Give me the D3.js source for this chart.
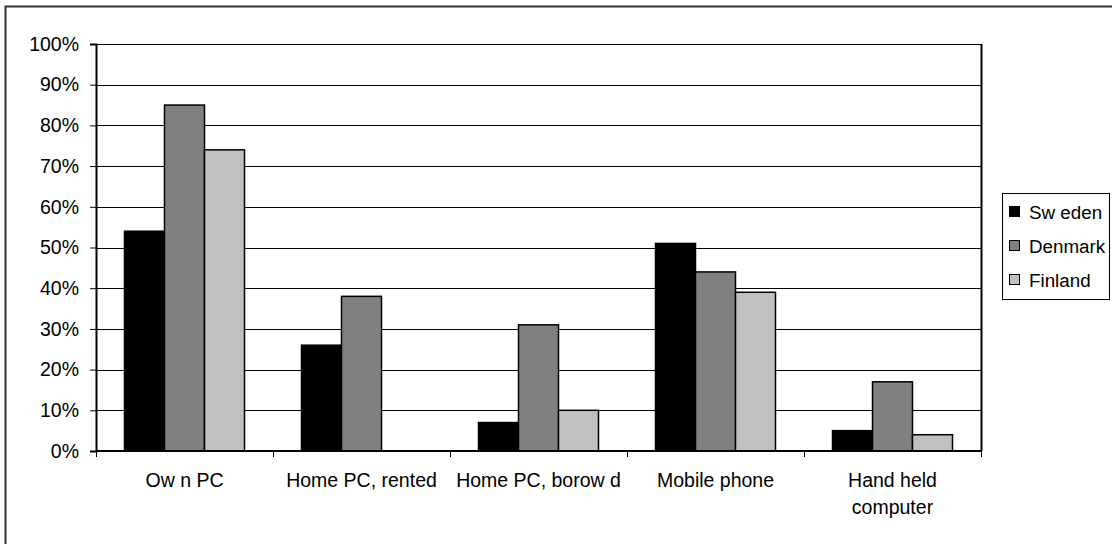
<!DOCTYPE html>
<html>
<head>
<meta charset="utf-8">
<script src="https://cdn.jsdelivr.net/npm/d3@7"></script>
<style>
  html, body { margin: 0; padding: 0; background: #fff; }
  svg { display: block; }
  text { font-family: "Liberation Sans", Arial, sans-serif; fill: #000; }
</style>
</head>
<body>
<svg id="chart" width="1112" height="544"></svg>
<script>
// Categories (labels as printed, line breaks split with "|")
const categories = ["Ow n PC", "Home PC, rented", "Home PC, borow d", "Mobile phone", "Hand held|computer"];
const seriesNames = ["Sw eden", "Denmark", "Finland"];
const seriesColors = ["#000000", "#808080", "#c0c0c0"];

// Percent values per series, in category order
const sweden  = [54, 26, 7, 51, 5];
const denmark = [85, 38, 31, 44, 17];
const finland = [74, 0, 10, 39, 4];
const seriesValues = [sweden, denmark, finland];

const yTicks = [0, 10, 20, 30, 40, 50, 60, 70, 80, 90, 100];

const svg = d3.select("#chart");
const plot = { left: 96, right: 981, top: 44, bottom: 451 };
const fontSize = 19.5;
const legendFontSize = 18.8;

// Outer chart frame
svg.append("rect")
  .attr("x", 5.5).attr("y", 6.5)
  .attr("width", 1112).attr("height", 544)
  .attr("fill", "none").attr("stroke", "#333").attr("stroke-width", 2);

const x = d3.scaleBand().domain(categories).range([plot.left, plot.right]).padding(0);
const xInner = d3.scaleBand().domain(seriesNames)
  .range([28.5, x.bandwidth() - 28.5]).padding(0);
const y = d3.scaleLinear().domain([0, 100]).range([plot.bottom, plot.top]);

// Gridlines
svg.append("g")
  .selectAll("line")
  .data(yTicks.filter(d => d > 0))
  .join("line")
  .attr("x1", plot.left).attr("x2", plot.right)
  .attr("y1", d => Math.round(y(d)) + 0.5).attr("y2", d => Math.round(y(d)) + 0.5)
  .attr("stroke", "#000").attr("stroke-width", 1);

// Bars
const groups = svg.append("g")
  .selectAll("g")
  .data(categories)
  .join("g")
  .attr("transform", d => `translate(${x(d)},0)`);

groups.selectAll("rect")
  .data((c, i) => seriesValues.map((vals, s) => ({ s, v: vals[i] })).filter(d => d.v > 0))
  .join("rect")
  .attr("x", d => xInner(seriesNames[d.s]))
  .attr("width", xInner.bandwidth())
  .attr("y", d => y(d.v))
  .attr("height", d => y(0) - y(d.v))
  .attr("fill", d => seriesColors[d.s])
  .attr("stroke", "#000").attr("stroke-width", 1.5);

// Right border of the plot area
svg.append("line")
  .attr("x1", plot.right + 0.5).attr("x2", plot.right + 0.5)
  .attr("y1", plot.top).attr("y2", plot.bottom)
  .attr("stroke", "#000").attr("stroke-width", 2);

// Y axis
const yAxis = svg.append("g")
  .attr("transform", `translate(${plot.left},0)`)
  .call(d3.axisLeft(y).tickValues(yTicks).tickFormat(d => d + "%").tickSize(6).tickPadding(11));
yAxis.select(".domain").attr("stroke", "#000").attr("stroke-width", 2);
yAxis.selectAll(".tick line").attr("stroke", "#000");
yAxis.selectAll(".tick text")
  .attr("font-size", fontSize)
  .attr("font-family", "Liberation Sans, Arial, sans-serif");

// X axis with ticks at category boundaries
const xAxis = svg.append("g")
  .attr("transform", `translate(0,${plot.bottom})`);
xAxis.append("line")
  .attr("x1", plot.left).attr("x2", plot.right + 1)
  .attr("y1", 0).attr("y2", 0)
  .attr("stroke", "#000").attr("stroke-width", 2);
xAxis.selectAll("line.tick")
  .data(categories.map(c => x(c)).concat([plot.right]))
  .join("line")
  .attr("class", "tick")
  .attr("x1", d => d + 0.5).attr("x2", d => d + 0.5)
  .attr("y1", 0).attr("y2", 6)
  .attr("stroke", "#000");

const labels = xAxis.selectAll("text")
  .data(categories)
  .join("text")
  .attr("text-anchor", "middle")
  .attr("font-size", fontSize)
  .attr("x", d => x(d) + x.bandwidth() / 2)
  .attr("y", 36);
labels.selectAll("tspan")
  .data(d => d.split("|"))
  .join("tspan")
  .attr("x", function () { return d3.select(this.parentNode).attr("x"); })
  .attr("dy", (d, i) => i === 0 ? 0 : 27)
  .text(d => d);

// Legend
const legend = svg.append("g").attr("transform", "translate(1002,193)");
legend.append("rect")
  .attr("x", 0.5).attr("y", 0.5)
  .attr("width", 107).attr("height", 106)
  .attr("fill", "#fff").attr("stroke", "#000").attr("stroke-width", 1);
const items = legend.selectAll("g.item")
  .data(seriesNames)
  .join("g")
  .attr("class", "item")
  .attr("transform", (d, i) => `translate(0,${19 + i * 34})`);
items.append("rect")
  .attr("x", 7.5).attr("y", -5.5)
  .attr("width", 10).attr("height", 10)
  .attr("fill", (d, i) => seriesColors[i])
  .attr("stroke", "#000").attr("stroke-width", 1);
items.append("text")
  .attr("x", 27)
  .attr("y", 0)
  .attr("dy", "0.35em")
  .attr("font-size", legendFontSize)
  .text(d => d);
</script>
</body>
</html>
